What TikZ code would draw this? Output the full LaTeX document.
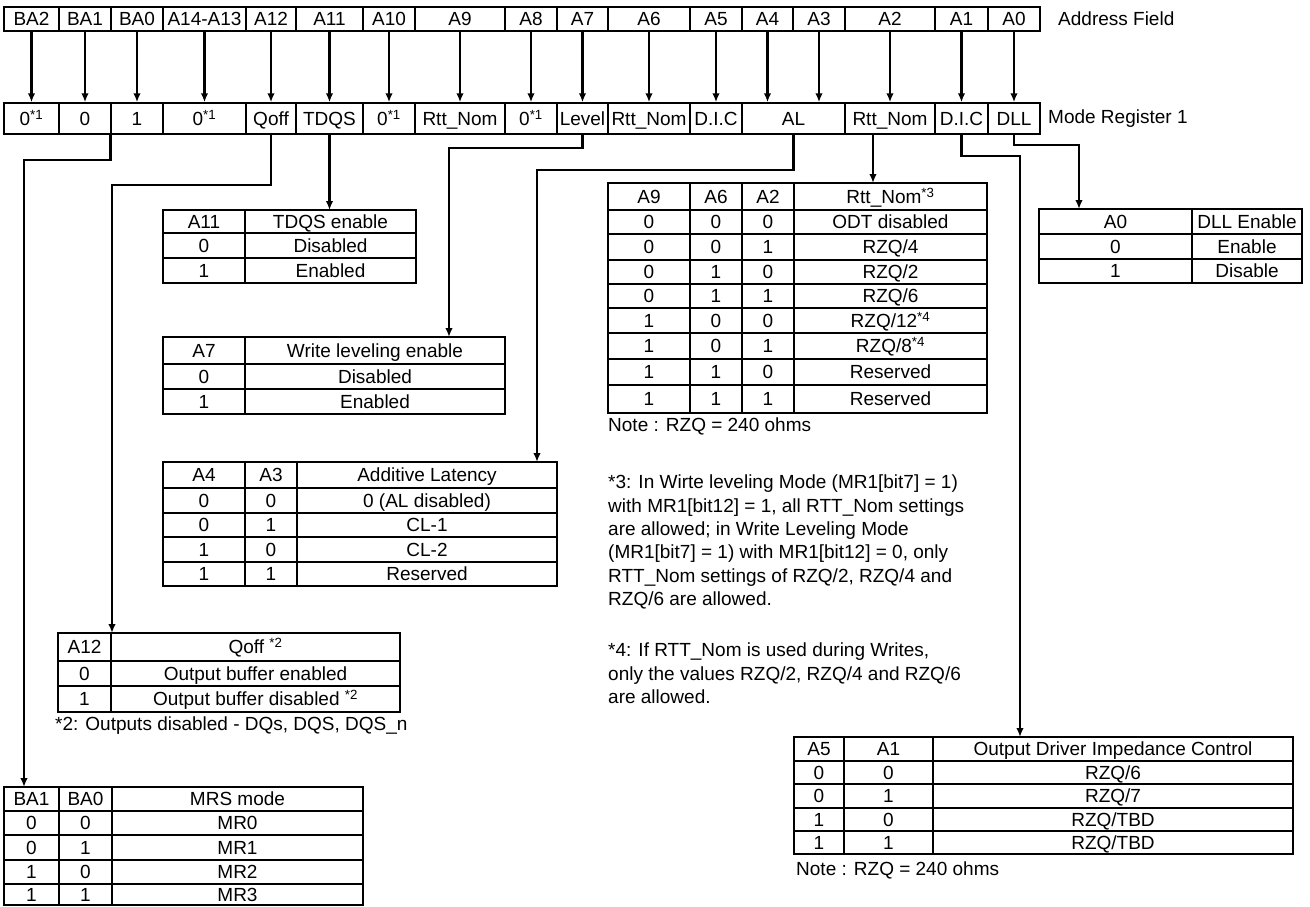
\documentclass[tikz,border=0pt]{standalone}
\usepackage{fontspec}
\setmainfont{Liberation Sans}
\usetikzlibrary{arrows.meta}

\tikzset{
  cell/.style={draw, line width=1.3pt, inner sep=0pt, text height=16pt, text depth=2.4pt,
    font=\fontsize{19}{22}\selectfont},
  regcell/.style={cell, line width=1.5pt},
  conn/.style={line width=2.5pt, -{Latex[length=9pt,width=7.5pt]}},
  plain/.style={inner sep=0pt, font=\fontsize{19}{23.3}\selectfont},
}

% one row of a table: prefix, top, bottom, cells x0/x1/text
\newcommand{\tabrow}[4]{%
  \foreach \xa/\xb/\txt in {#4}
    \node[cell, minimum width={(\xb-\xa)*1pt}, minimum height={(#3-#2)*1pt}]
      (#1-\xa-#2) at ({(\xa+\xb)/2},{(#2+#3)/2}) {\txt};}

\newcommand{\sx}[1]{\textsuperscript{#1}}

\begin{document}
\begin{tikzpicture}[x=1pt,y=-1pt]
            \useasboundingbox (0,0) rectangle (1310,906);

            % Address field row
            \foreach \xa/\xb/\n/\txt in {4/59/BA2/BA2, 59/111/BA1/BA1, 111/163/BA0/BA0, 163/246/A14/A14-A13,
                246/296/A12/A12, 296/363/A11/A11, 363/415/A10/A10, 415/505/A9/A9, 505/557/A8/A8,
                557/608/A7/A7, 608/690/A6/A6, 690/742/A5/A5, 742/793/A4/A4, 793/845/A3/A3,
                845/935/A2/A2, 935/988/A1/A1, 988/1040/A0/A0}
              \node[regcell, minimum width={(\xb-\xa)*1pt}, minimum height=24pt] (a-\n) at ({(\xa+\xb)/2},19) {\txt};
            \node[plain, anchor=west] (addr-lbl) at (1058,19) {Address Field};

            % Mode register 1 row
            \foreach \xa/\xb/\n/\txt in {4/59/BA2/0\sx{*1}, 59/111/BA1/0, 111/163/BA0/1, 163/246/A14/0\sx{*1},
                246/296/A12/Qoff, 296/363/A11/TDQS, 363/415/A10/0\sx{*1}, 415/505/A9/Rtt\_Nom, 505/557/A8/0\sx{*1},
                557/608/A7/Level, 608/690/A6/Rtt\_Nom, 690/742/A5/D.I.C, 742/845/A4/AL,
                845/935/A2/Rtt\_Nom, 935/988/A1/D.I.C, 988/1040/A0/DLL}
              \node[regcell, minimum width={(\xb-\xa)*1pt}, minimum height=31pt] (m-\n) at ({(\xa+\xb)/2},118.5) {\txt};
            \node[plain, anchor=west] (mr-lbl) at (1048,119) {Mode Register 1};

            % Arrows from address bits to register fields
            \foreach \n/\m in {BA2/BA2, BA1/BA1, BA0/BA0, A14/A14, A12/A12, A11/A11, A10/A10, A9/A9, A8/A8,
                A7/A7, A6/A6, A5/A5, A4/A4, A3/A4, A2/A2, A1/A1, A0/A0}
              \draw[conn] (a-\n.south) -- (a-\n.south |- m-\m.north);

            % Table entry points
            \coordinate (mrs-in) at (24,787);
            \coordinate (qoff-in) at (112,633);
            \coordinate (tdqs-in) at (322,210);
            \coordinate (wl-in) at (449,337);
            \coordinate (al-in) at (537,462);
            \coordinate (rtt-in) at (873,183);
            \coordinate (dll-in) at (1079,209);
            \coordinate (odi-in) at (1020,737);

            % Connectors down to the tables
            \draw[conn] (m-BA0.south west) -- ++(0,25) -| (mrs-in);
            \draw[conn] (m-A12.south) -- ++(0,50) -| (qoff-in);
            \draw[conn] (m-A11.south) -- (m-A11.south |- tdqs-in);
            \draw[conn] (m-A7.south) -- ++(0,13) -| (wl-in);
            \draw[conn] (m-A4.south) -- ++(0,35) -| (al-in);
            \draw[conn] (rtt-in |- m-A2.south) -- (rtt-in);
            \draw[conn] (m-A1.south) -- ++(0,21) -| (odi-in);
            \draw[conn] (m-A0.south) -- ++(0,10) -| (dll-in);

            % TDQS enable
            \tabrow{tdqs}{210}{233}{163/245/A11, 245/416/TDQS enable}
            \tabrow{tdqs}{233}{258}{163/245/0, 245/416/Disabled}
            \tabrow{tdqs}{258}{283}{163/245/1, 245/416/Enabled}

            % Write leveling
            \tabrow{wl}{337}{364}{163/245/A7, 245/505/Write leveling enable}
            \tabrow{wl}{364}{389}{163/245/0, 245/505/Disabled}
            \tabrow{wl}{389}{414}{163/245/1, 245/505/Enabled}

            % Additive latency
            \tabrow{al}{462}{488}{163/245/A4, 245/297/A3, 297/557/Additive Latency}
            \tabrow{al}{488}{513}{163/245/0, 245/297/0, 297/557/0 (AL disabled)}
            \tabrow{al}{513}{537}{163/245/0, 245/297/1, 297/557/CL-1}
            \tabrow{al}{537}{562}{163/245/1, 245/297/0, 297/557/CL-2}
            \tabrow{al}{562}{586}{163/245/1, 245/297/1, 297/557/Reserved}

            % Qoff
            \tabrow{qoff}{633}{661}{58/111/A12, 111/400/Qoff \sx{*2}}
            \tabrow{qoff}{661}{686}{58/111/0, 111/400/Output buffer enabled}
            \tabrow{qoff}{686}{712}{58/111/1, 111/400/Output buffer disabled \sx{*2}}
            \node[plain, anchor=west] (qoff-note) at (55,726) {*2: Outputs disabled - DQs, DQS, DQS\_n};

            % MRS mode
            \tabrow{mrs}{787}{811}{4/59/BA1, 59/112/BA0, 112/363/MRS mode}
            \tabrow{mrs}{811}{835}{4/59/0, 59/112/0, 112/363/MR0}
            \tabrow{mrs}{835}{860}{4/59/0, 59/112/1, 112/363/MR1}
            \tabrow{mrs}{860}{884}{4/59/1, 59/112/0, 112/363/MR2}
            \tabrow{mrs}{884}{905}{4/59/1, 59/112/1, 112/363/MR3}

            % Rtt_Nom
            \tabrow{rtt}{183}{210}{608/690/A9, 690/742/A6, 742/794/A2, 794/987/Rtt\_Nom\sx{*3}}
            \tabrow{rtt}{210}{234}{608/690/0, 690/742/0, 742/794/0, 794/987/ODT disabled}
            \tabrow{rtt}{234}{260}{608/690/0, 690/742/0, 742/794/1, 794/987/{RZQ/4}}
            \tabrow{rtt}{260}{284}{608/690/0, 690/742/1, 742/794/0, 794/987/{RZQ/2}}
            \tabrow{rtt}{284}{308}{608/690/0, 690/742/1, 742/794/1, 794/987/{RZQ/6}}
            \tabrow{rtt}{308}{333}{608/690/1, 690/742/0, 742/794/0, 794/987/{RZQ/12\sx{*4}}}
            \tabrow{rtt}{333}{359}{608/690/1, 690/742/0, 742/794/1, 794/987/{RZQ/8\sx{*4}}}
            \tabrow{rtt}{359}{385}{608/690/1, 690/742/1, 742/794/0, 794/987/Reserved}
            \tabrow{rtt}{385}{413}{608/690/1, 690/742/1, 742/794/1, 794/987/Reserved}
            \node[plain, anchor=west] (rtt-note) at (608,426) {Note : RZQ = 240 ohms};

            % footnotes 3 and 4
            \node[plain, anchor=north west, align=left] (note3) at (608,475)
              {*3: In Wirte leveling Mode (MR1[bit7] = 1)\\with MR1[bit12] = 1, all RTT\_Nom settings\\are allowed; in Write Leveling Mode\\(MR1[bit7] = 1) with MR1[bit12] = 0, only\\RTT\_Nom settings of RZQ/2, RZQ/4 and\\RZQ/6 are allowed.};
            \node[plain, anchor=north west, align=left] (note4) at (608,643)
              {*4: If RTT\_Nom is used during Writes,\\only the values RZQ/2, RZQ/4 and RZQ/6\\are allowed.};

            % DLL enable
            \tabrow{dll}{209}{234}{1039/1192/A0, 1192/1302/DLL Enable}
            \tabrow{dll}{234}{259}{1039/1192/0, 1192/1302/Enable}
            \tabrow{dll}{259}{283}{1039/1192/1, 1192/1302/Disable}

            % Output driver impedance
            \tabrow{odi}{737}{761}{794/844/A5, 844/933/A1, 933/1293/Output Driver Impedance Control}
            \tabrow{odi}{761}{784}{794/844/0, 844/933/0, 933/1293/{RZQ/6}}
            \tabrow{odi}{784}{808}{794/844/0, 844/933/1, 933/1293/{RZQ/7}}
            \tabrow{odi}{808}{831}{794/844/1, 844/933/0, 933/1293/{RZQ/TBD}}
            \tabrow{odi}{831}{854}{794/844/1, 844/933/1, 933/1293/{RZQ/TBD}}
            \node[plain, anchor=west] (odi-note) at (796,870) {Note : RZQ = 240 ohms};
\end{tikzpicture}
\end{document}
